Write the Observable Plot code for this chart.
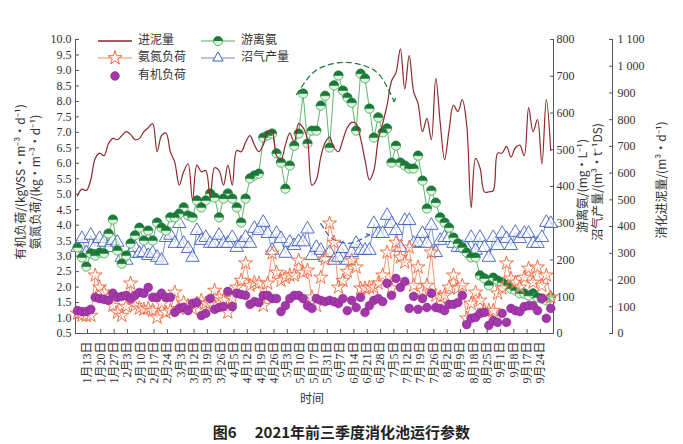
<!DOCTYPE html>
<html><head><meta charset="utf-8">
<script src="https://cdn.jsdelivr.net/npm/d3@7"></script>
<script src="https://cdn.jsdelivr.net/npm/@observablehq/plot@0.6"></script>
<style>
body{margin:0;background:#fff;}
#wrap{width:683px;height:412px;}
#cap{width:683px;text-align:center;font-weight:bold;font-size:15px;font-family:"Noto Sans CJK SC",sans-serif;color:#222;padding-top:10px;line-height:20px;}
#cap span{margin-left:18px;}
</style></head><body>
<div id="wrap"></div>
<div id="cap">图6<span>2021年前三季度消化池运行参数</span></div>
<script>
// x tick labels (categorical, evenly spaced)
const dateLabels = ["1月13日","1月20日","1月27日","2月3日","2月10日","2月17日","2月24日","3月3日","3月12日","3月19日","3月26日","4月5日","4月12日","4月19日","4月26日","5月3日","5月10日","5月17日","5月31日","6月7日","6月14日","6月21日","6月28日","7月5日","7月12日","7月19日","7月26日","8月2日","8月9日","8月18日","8月25日","9月1日","9月8日","9月17日","9月24日"];

// 消化进泥量 m3/d (right outer axis)
const sludgeIn = [515,540,535,575,655,675,665,710,730,725,
740,755,745,725,730,755,770,785,680,740,
750,680,640,555,605,635,500,630,605,610,
510,620,610,555,630,555,685,680,715,740,
705,680,705,755,755,665,650,705,750,715,
785,770,725,555,575,660,715,735,695,680,
725,770,790,785,730,650,575,610,725,785,
855,945,975,1065,915,1040,905,860,755,805,
725,955,790,650,760,855,830,875,780,470,
655,620,530,530,535,675,675,700,660,695,
705,665,845,755,800,635,875,685];

// 游离氨 mg/L (right inner axis)
const freeAmmonia = [234,207,182,218,212,220,218,272,310,226,
190,212,245,267,288,253,280,253,302,288,
280,316,316,326,343,321,316,362,343,362,
381,370,316,367,381,367,343,302,367,422,
430,435,533,539,544,490,465,394,457,511,
544,653,517,552,552,620,647,506,675,702,
661,642,628,552,707,694,612,533,588,547,
558,465,511,465,457,449,449,484,416,340,
389,356,316,302,288,261,245,234,220,207,
207,158,150,131,152,144,139,131,122,117,
109,109,103,109,98,95,90,98];

// 沼气产量 m3/t DS (right inner axis)
const biogas = [234,258,220,267,239,258,248,234,253,248,
207,199,218,234,218,220,212,218,207,199,
261,267,245,299,245,231,207,280,253,261,
245,245,267,245,245,261,234,245,261,245,
286,280,302,272,226,272,258,218,248,239,
250,249,284,212,234,226,207,220,199,207,
231,199,220,245,226,226,226,299,272,272,
321,299,280,234,307,307,245,247,272,245,
294,220,253,261,261,245,234,234,231,261,
226,261,234,207,261,239,272,258,239,275,
258,272,272,245,245,261,302,299];

// 氨氮负荷 kg/(m3·d) (left axis)
const ammoniaLoad = [1.15,1.08,1.08,1.08,2.38,1.99,1.83,1.67,1.4,1.18,
1.08,1.37,2.12,1.4,1.31,1.28,1.31,1.24,1.02,1.47,
1.18,1.24,1.83,1.3,1.5,1.4,1.3,1.47,1.57,1.47,
1.5,1.89,1.67,1.57,1.18,1.63,1.99,2.21,2.77,2.05,
2.15,2.12,1.4,2.12,3.09,2.47,2.21,2.31,2.38,2.38,
2.86,2.47,2.54,1.67,1.4,2.31,2.9,4.06,3.44,1.99,
2.21,2.5,2.86,2.64,1.96,1.96,1.99,1.99,2.12,2.38,
3.12,1.96,3.44,2.96,2.8,3.28,2.05,2.64,1.89,2.05,
3.12,1.73,1.67,1.73,1.99,2.38,1.96,2.05,0.99,1.47,
1.83,1.57,1.24,1.24,1.24,1.8,1.96,2.77,2.28,2.15,
1.99,2.31,2.6,2.15,2.64,2.05,2.38,1.67];

// 有机负荷 kgVSS/(m3·d) (left axis)
const organicLoad = [1.24,1.21,1.21,1.28,1.67,1.63,1.6,1.57,1.8,1.67,
1.7,1.73,1.63,1.73,1.83,1.8,1.99,1.67,1.67,1.8,
1.67,1.67,1.18,1.31,1.34,1.24,1.47,1.5,1.08,1.15,
1.63,1.28,1.34,1.37,1.86,1.37,1.8,1.76,1.73,1.44,
1.53,1.5,1.73,1.73,1.63,1.63,1.21,1.4,1.63,1.73,
1.73,1.63,1.4,1.31,1.63,1.57,1.53,1.57,1.53,1.47,
1.63,1.24,1.57,1.34,1.67,1.18,1.4,1.57,1.63,1.53,
2.12,1.73,2.28,1.99,2.18,1.31,1.7,1.28,1.63,1.34,
1.8,1.34,1.31,1.24,1.44,1.44,1.5,1.73,0.79,0.99,
1.02,1.15,1.18,0.76,0.92,0.86,1.15,0.86,1.31,1.24,
1.21,1.37,1.4,1.4,1.24,1.63,0.99,1.31];

// dashed trend annotations (sample index, value)
const faTrendIdx = [49.5,52.7,56,60.5,65,68.5,71.5];
const faTrendVal = [650,703,728,738,728,700,634];
const bgTrendIdx = [55,56.8,58.4,61.1,63.6,65.8];
const bgTrendVal = [299,267,253,245,253,267];

const leftTicks = d3.range(0.5, 10.01, 0.5);
const faTicks = d3.range(0, 801, 100);
const sludgeTicks = d3.range(0, 1101, 100);

// scale helpers: all series share the left value scale
const pos = j => -0.75 + j * 0.332;
const yFA = v => 0.5 + v * 9.5 / 800;
const yS = v => 0.5 + v * 9.5 / 1100;
const idx = d3.range(organicLoad.length);
const thous = v => String(v).replace(/\B(?=(\d{3})+(?!\d))/g, " ");

const halfTop = {draw(ctx, size) {const r = Math.sqrt(size / Math.PI); ctx.moveTo(-r, 0); ctx.arc(0, 0, r, Math.PI, 2 * Math.PI); ctx.closePath();}};

const C = {brown:"#8e2a2a", green:"#1b7a3a", greenLine:"#4cae5c", greenLight:"#e4f3e4", orange:"#ef6436", orangeLine:"#f48a66", blue:"#3f5fbf", blueLine:"#6e88d2", purple:"#a437aa"};
const serif = "'Liberation Serif','Noto Sans CJK SC',serif";

const chart = Plot.plot({
  width: 683, height: 412,
  marginLeft: 75, marginRight: 130, marginTop: 39, marginBottom: 79,
  x: {domain: [-0.9, 34.98]},
  y: {domain: [0.5, 10]},
  style: "font-family: 'Liberation Serif', 'Noto Sans CJK SC', serif; font-size: 12px; color: #333; background: white;",
  marks: [
    Plot.ruleX([-0.9], {stroke: "#555"}),
    Plot.ruleX([34.98], {stroke: "#555"}),
    Plot.ruleX([34.98], {stroke: "#555", dx: 59}),
    Plot.ruleY([0.5], {stroke: "#555"}),
    Plot.axisY({anchor: "left", ticks: leftTicks, tickFormat: d3.format(".1f"), tickSize: -4, tickPadding: 8, label: null, stroke: "#555"}),
    Plot.axisY({anchor: "right", ticks: faTicks.map(yFA), tickFormat: d => String(Math.round((d - 0.5) * 800 / 9.5)), tickSize: -4, tickPadding: 7, label: null, stroke: "#555"}),
    Plot.axisY({anchor: "right", dx: 59, ticks: sludgeTicks.map(yS), tickFormat: d => thous(Math.round((d - 0.5) * 1100 / 9.5)), tickSize: -4, tickPadding: 9, label: null, stroke: "#555"}),
    Plot.axisX({ticks: d3.range(dateLabels.length), tickFormat: i => dateLabels[i], tickRotate: -90, tickSize: -4, tickPadding: 12, label: null, stroke: "#555"}),
    // 沼气产量
    Plot.line(idx, {x: pos, y: j => yFA(biogas[j]), stroke: C.blueLine, strokeWidth: 0.9}),
    Plot.dot(idx, {x: pos, y: j => yFA(biogas[j]), symbol: "triangle", r: 5, stroke: C.blue, fill: "white", fillOpacity: 0.6, strokeWidth: 0.9}),
    // 游离氨
    Plot.line(idx, {x: pos, y: j => yFA(freeAmmonia[j]), stroke: C.greenLine, strokeWidth: 0.9}),
    Plot.dot(idx, {x: pos, y: j => yFA(freeAmmonia[j]), r: 4.6, stroke: C.greenLine, fill: C.greenLight, strokeWidth: 0.9}),
    Plot.dot(idx, {x: pos, y: j => yFA(freeAmmonia[j]), r: 4.6, symbol: halfTop, fill: C.green, stroke: C.green, strokeWidth: 0.5}),
    // 进泥量
    Plot.line(idx, {x: pos, y: j => yS(sludgeIn[j]), stroke: C.brown, strokeWidth: 1.2, curve: "catmull-rom"}),
    // 氨氮负荷
    Plot.line(idx, {x: pos, y: j => ammoniaLoad[j], stroke: C.orangeLine, strokeWidth: 0.9}),
    Plot.dot(idx, {x: pos, y: j => ammoniaLoad[j], symbol: "star", r: 4.4, stroke: C.orange, fill: "white", fillOpacity: 0.5, strokeWidth: 0.9}),
    // 有机负荷
    Plot.dot(idx, {x: pos, y: j => organicLoad[j], r: 4.4, fill: C.purple, stroke: "#7d1f87", strokeWidth: 0.5}),
    // trend annotations
    Plot.line(faTrendIdx.map((d, i) => i), {x: i => pos(faTrendIdx[i]), y: i => yFA(faTrendVal[i]), stroke: C.green, strokeWidth: 1.2, strokeDasharray: "5,4", curve: "natural", markerEnd: "arrow"}),
    Plot.line(bgTrendIdx.map((d, i) => i), {x: i => pos(bgTrendIdx[i]), y: i => yFA(bgTrendVal[i]), stroke: C.blue, strokeWidth: 1.2, strokeDasharray: "5,4", curve: "natural", markerEnd: "arrow"})
  ]
});
document.getElementById("wrap").appendChild(chart);

const svg = d3.select(chart);
// serif tick labels like the reference
svg.selectAll("text").attr("font-family", serif).style("font-family", serif).attr("fill", "#333");

// axis titles and legend
const cjk = "'Noto Sans CJK SC',sans-serif";
const titles = [
  ["有机负荷/(kgVSS·m⁻³·d⁻¹)", 22, 182],
  ["氨氮负荷/(kg·m⁻³·d⁻¹)", 37, 182],
  ["游离氨/(mg·L⁻¹)", 584, 186],
  ["沼气产量/(m³·t⁻¹DS)", 599, 182],
  ["消化进泥量/(m³·d⁻¹)", 663, 180]
];
titles.forEach(([t, x, y]) => svg.append("text").attr("transform", `translate(${x},${y}) rotate(-90)`)
  .attr("text-anchor", "middle").attr("dominant-baseline", "middle")
  .attr("font-family", cjk).attr("font-size", 12).attr("fill", "#333").text(t));
svg.append("text").attr("x", 312).attr("y", 400).attr("text-anchor", "middle").attr("dominant-baseline", "middle")
  .attr("font-family", cjk).attr("font-size", 12).attr("fill", "#333").text("时间");

const lg = svg.append("g");
const sym = (type, r) => d3.symbol().type(type).size(Math.PI * r * r)();
function item(x0, y, label, line, draw) {
  if (line) lg.append("line").attr("x1", x0).attr("x2", x0 + 34).attr("y1", y).attr("y2", y).attr("stroke", line).attr("stroke-width", line === C.brown ? 1.4 : 1);
  if (draw) draw(x0 + 17, y);
  lg.append("text").attr("x", x0 + 40).attr("y", y).attr("dominant-baseline", "middle").attr("text-anchor", "start")
    .attr("font-family", cjk).attr("font-size", 12).attr("fill", "#333").text(label);
}
item(98, 41, "进泥量", C.brown, null);
item(201, 41, "游离氨", C.greenLine, (x, y) => {
  lg.append("circle").attr("cx", x).attr("cy", y).attr("r", 4.6).attr("fill", C.greenLight).attr("stroke", C.greenLine);
  lg.append("path").attr("transform", `translate(${x},${y})`).attr("d", sym(halfTop, 4.6)).attr("fill", C.green);
});
item(98, 58, "氨氮负荷", C.orangeLine, (x, y) => lg.append("path").attr("transform", `translate(${x},${y})`).attr("d", sym(d3.symbolStar, 4.4)).attr("fill", "white").attr("stroke", C.orange));
item(201, 58, "沼气产量", C.blueLine, (x, y) => lg.append("path").attr("transform", `translate(${x},${y})`).attr("d", sym(d3.symbolTriangle2, 5)).attr("fill", "white").attr("stroke", C.blue));
item(98, 76, "有机负荷", null, (x, y) => lg.append("circle").attr("cx", x).attr("cy", y).attr("r", 4.4).attr("fill", C.purple).attr("stroke", "#7d1f87").attr("stroke-width", 0.5));
</script>
</body></html>
